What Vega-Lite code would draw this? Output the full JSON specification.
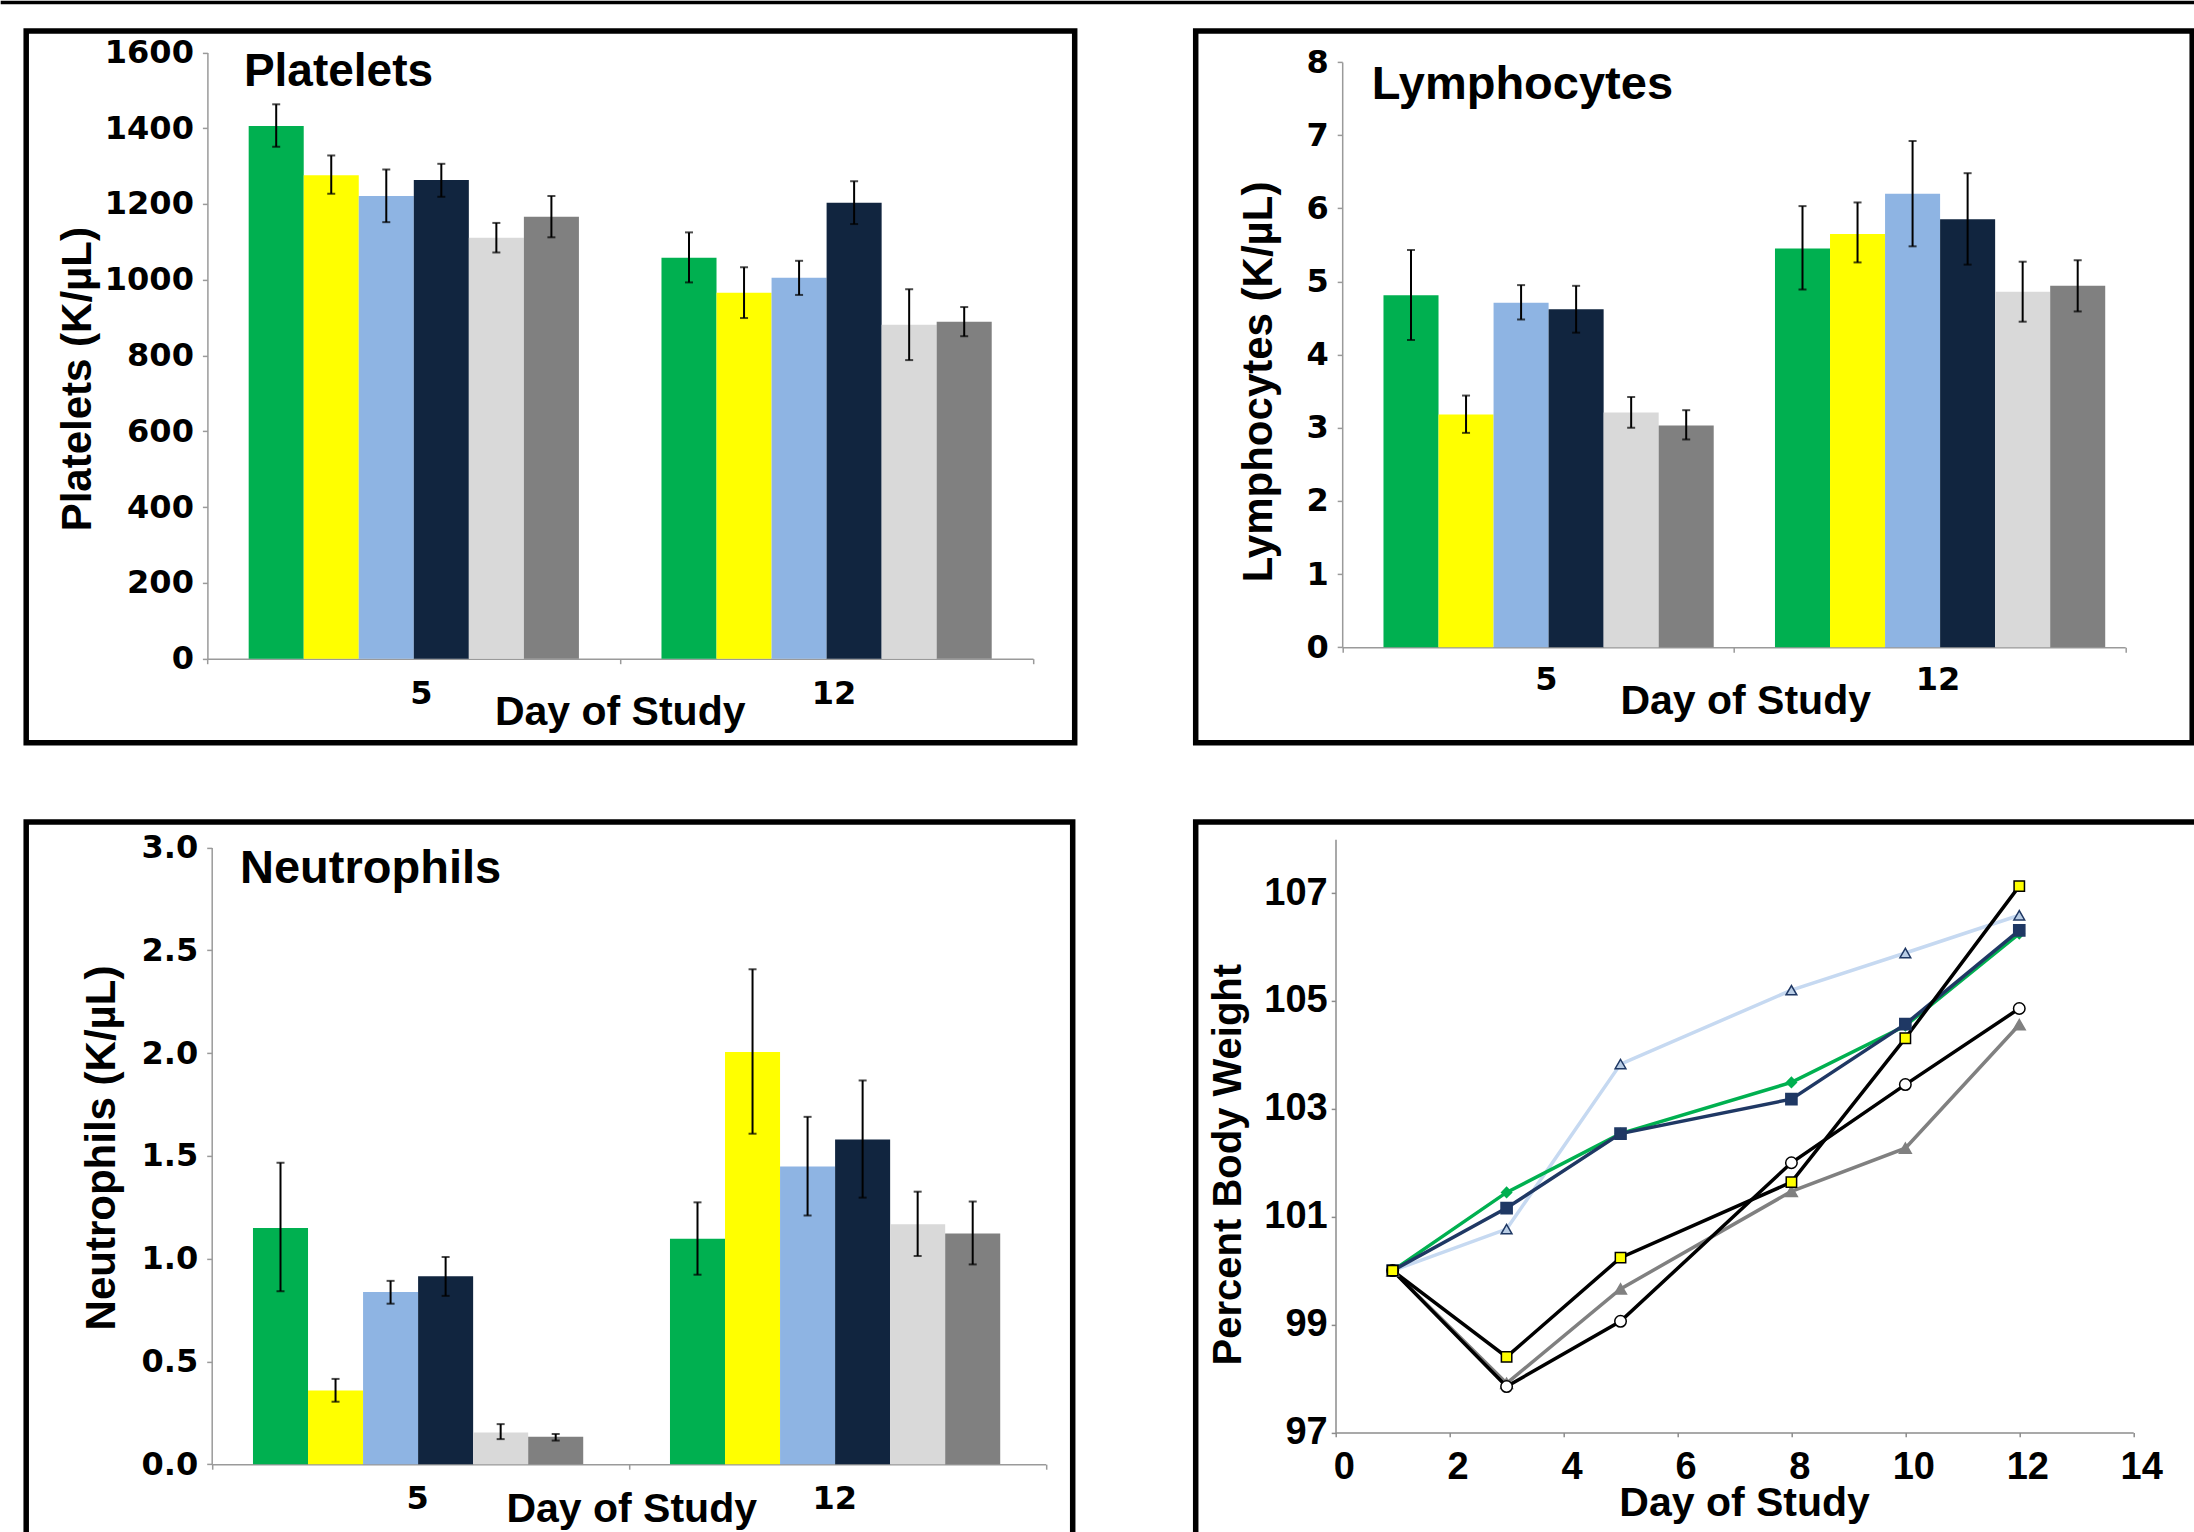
{
  "$schema": "https://vega.github.io/schema/vega-lite/v6.json",
  "padding": 0,
  "background": "white",
  "bounds": "flush",
  "spacing": 27.9,
  "datasets": {
    "platelets": [
      {"day": "5", "group": "G1", "value": 1406, "lo": 1351, "hi": 1463},
      {"day": "5", "group": "G2", "value": 1276, "lo": 1227, "hi": 1328},
      {"day": "5", "group": "G3", "value": 1221, "lo": 1152, "hi": 1291},
      {"day": "5", "group": "G4", "value": 1263, "lo": 1219, "hi": 1306},
      {"day": "5", "group": "G5", "value": 1111, "lo": 1072, "hi": 1150},
      {"day": "5", "group": "G6", "value": 1166, "lo": 1112, "hi": 1221},
      {"day": "12", "group": "G1", "value": 1058, "lo": 993, "hi": 1125},
      {"day": "12", "group": "G2", "value": 966, "lo": 899, "hi": 1033},
      {"day": "12", "group": "G3", "value": 1005, "lo": 960, "hi": 1050},
      {"day": "12", "group": "G4", "value": 1203, "lo": 1147, "hi": 1260},
      {"day": "12", "group": "G5", "value": 881, "lo": 788, "hi": 975},
      {"day": "12", "group": "G6", "value": 889, "lo": 851, "hi": 928}
    ],
    "lymph": [
      {"day": "5", "group": "G1", "value": 4.81, "lo": 4.20, "hi": 5.43},
      {"day": "5", "group": "G2", "value": 3.18, "lo": 2.93, "hi": 3.44},
      {"day": "5", "group": "G3", "value": 4.71, "lo": 4.48, "hi": 4.95},
      {"day": "5", "group": "G4", "value": 4.62, "lo": 4.30, "hi": 4.94},
      {"day": "5", "group": "G5", "value": 3.21, "lo": 3.00, "hi": 3.42},
      {"day": "5", "group": "G6", "value": 3.03, "lo": 2.84, "hi": 3.24},
      {"day": "12", "group": "G1", "value": 5.45, "lo": 4.89, "hi": 6.03},
      {"day": "12", "group": "G2", "value": 5.65, "lo": 5.26, "hi": 6.08},
      {"day": "12", "group": "G3", "value": 6.20, "lo": 5.48, "hi": 6.92},
      {"day": "12", "group": "G4", "value": 5.85, "lo": 5.23, "hi": 6.48},
      {"day": "12", "group": "G5", "value": 4.86, "lo": 4.45, "hi": 5.27},
      {"day": "12", "group": "G6", "value": 4.94, "lo": 4.59, "hi": 5.29}
    ],
    "neut": [
      {"day": "5", "group": "G1", "value": 1.149, "lo": 0.842, "hi": 1.467},
      {"day": "5", "group": "G2", "value": 0.359, "lo": 0.304, "hi": 0.415},
      {"day": "5", "group": "G3", "value": 0.838, "lo": 0.781, "hi": 0.892},
      {"day": "5", "group": "G4", "value": 0.915, "lo": 0.819, "hi": 1.008},
      {"day": "5", "group": "G5", "value": 0.154, "lo": 0.122, "hi": 0.195},
      {"day": "5", "group": "G6", "value": 0.134, "lo": 0.115, "hi": 0.147},
      {"day": "12", "group": "G1", "value": 1.097, "lo": 0.922, "hi": 1.274},
      {"day": "12", "group": "G2", "value": 2.005, "lo": 1.608, "hi": 2.408},
      {"day": "12", "group": "G3", "value": 1.449, "lo": 1.210, "hi": 1.690},
      {"day": "12", "group": "G4", "value": 1.580, "lo": 1.297, "hi": 1.867},
      {"day": "12", "group": "G5", "value": 1.167, "lo": 1.013, "hi": 1.326},
      {"day": "12", "group": "G6", "value": 1.122, "lo": 0.972, "hi": 1.278}
    ],
    "weight": [
      {"series": "G3", "day": 1, "pct": 100.0},
      {"series": "G3", "day": 3, "pct": 100.77},
      {"series": "G3", "day": 5, "pct": 103.83},
      {"series": "G3", "day": 8, "pct": 105.20},
      {"series": "G3", "day": 10, "pct": 105.89},
      {"series": "G3", "day": 12, "pct": 106.59},
      {"series": "G1", "day": 1, "pct": 100.0},
      {"series": "G1", "day": 3, "pct": 101.45},
      {"series": "G1", "day": 5, "pct": 102.54},
      {"series": "G1", "day": 8, "pct": 103.49},
      {"series": "G1", "day": 10, "pct": 104.54},
      {"series": "G1", "day": 12, "pct": 106.25},
      {"series": "G4", "day": 1, "pct": 100.0},
      {"series": "G4", "day": 3, "pct": 101.16},
      {"series": "G4", "day": 5, "pct": 102.54},
      {"series": "G4", "day": 8, "pct": 103.18},
      {"series": "G4", "day": 10, "pct": 104.57},
      {"series": "G4", "day": 12, "pct": 106.31},
      {"series": "G6", "day": 1, "pct": 100.0},
      {"series": "G6", "day": 3, "pct": 97.91},
      {"series": "G6", "day": 5, "pct": 99.66},
      {"series": "G6", "day": 8, "pct": 101.47},
      {"series": "G6", "day": 10, "pct": 102.27},
      {"series": "G6", "day": 12, "pct": 104.56},
      {"series": "G5", "day": 1, "pct": 100.0},
      {"series": "G5", "day": 3, "pct": 97.85},
      {"series": "G5", "day": 5, "pct": 99.06},
      {"series": "G5", "day": 8, "pct": 102.00},
      {"series": "G5", "day": 10, "pct": 103.45},
      {"series": "G5", "day": 12, "pct": 104.86},
      {"series": "G2", "day": 1, "pct": 100.0},
      {"series": "G2", "day": 3, "pct": 98.40},
      {"series": "G2", "day": 5, "pct": 100.24},
      {"series": "G2", "day": 8, "pct": 101.64},
      {"series": "G2", "day": 10, "pct": 104.31},
      {"series": "G2", "day": 12, "pct": 107.13}
    ]
  },
  "vconcat": [
    {
      "width": 2191, "height": 1,
      "data": {"values": []},
      "mark": {"type": "text", "text": ""},
      "view": {"stroke": "black", "strokeWidth": 2.6}
    },
    {
      "bounds": "flush",
      "spacing": 23.2,
      "hconcat": [
        {
          "width": 1, "height": 1,
          "data": {"values": []},
          "mark": {"type": "text", "text": ""}
        },
        {
          "bounds": "flush",
          "columns": 2,
          "spacing": {"row": 79, "column": 120.5},
          "resolve": {"scale": {"color": "independent"}},
          "concat": [
            {
              "width": 1048.5, "height": 711.8,
              "view": {"stroke": "black", "strokeWidth": 5.5},
              "data": {"name": "platelets"},
              "encoding": {
                "x": {"field": "day", "type": "nominal", "sort": ["5", "12"],
                  "scale": {"range": [181.2, 1006.8], "paddingInner": 0, "paddingOuter": 0},
                  "axis": {"orient": "bottom", "offset": -84, "title": "Day of Study", "titleX": 593.5, "titleY": 66, "titleAlign": "center", "titleBaseline": "alphabetic", "titleFontSize": 41, "labelAngle": 0, "labelFont": "DejaVu Sans", "labelFontSize": 32, "labelPadding": 15, "labelOffset": 7, "tickSize": 5, "tickBand": "extent"}}
              },
              "layer": [
                {
                  "mark": {"type": "bar"},
                  "encoding": {
                    "xOffset": {"field": "group", "type": "nominal", "scale": {"paddingInner": 0, "paddingOuter": 0.75}},
                    "y": {"field": "value", "type": "quantitative", "scale": {"domain": [0, 1600], "range": [627.8, 21.5], "nice": false, "zero": false},
                      "axis": {"orient": "left", "offset": -181.2, "values": [0, 200, 400, 600, 800, 1000, 1200, 1400, 1600], "format": "d", "title": "Platelets (K/µL)", "titleX": -116.7, "titleY": 347.8, "titleAngle": -90, "titleAlign": "center", "titleBaseline": "alphabetic", "titleFontSize": 42, "labelFont": "DejaVu Sans", "labelFontSize": 32, "labelPadding": 9, "tickSize": 5}},
                    "color": {"field": "group", "type": "nominal", "legend": null, "scale": {"domain": ["G1", "G2", "G3", "G4", "G5", "G6"], "range": ["#00B050", "#FFFF00", "#8EB4E3", "#11253F", "#D9D9D9", "#808080"]}}
                  }
                },
                {
                  "mark": {"type": "rule", "color": "black", "strokeWidth": 2},
                  "encoding": {
                    "xOffset": {"field": "group", "type": "nominal"},
                    "y": {"field": "lo", "type": "quantitative"},
                    "y2": {"field": "hi"}
                  }
                },
                {
                  "mark": {"type": "tick", "color": "black", "thickness": 2, "size": 8},
                  "encoding": {
                    "xOffset": {"field": "group", "type": "nominal"},
                    "y": {"field": "lo", "type": "quantitative"}}
                },
                {
                  "mark": {"type": "tick", "color": "black", "thickness": 2, "size": 8},
                  "encoding": {
                    "xOffset": {"field": "group", "type": "nominal"},
                    "y": {"field": "hi", "type": "quantitative"}}
                },
                {
                  "data": {"values": [{"label": "Platelets"}]},
                  "mark": {"type": "text", "align": "left", "baseline": "alphabetic", "font": "Liberation Sans", "fontSize": 46, "fontWeight": "bold", "color": "black"},
                  "encoding": {
                    "text": {"field": "label"},
                    "x": {"datum": "5", "type": "nominal", "bandPosition": 0.0884},
                    "y": {"datum": 1512, "type": "quantitative"}
                  }
                }
              ]
            },
            {
              "width": 996.5, "height": 711.8,
              "view": {"stroke": "black", "strokeWidth": 5.5},
              "data": {"name": "lymph"},
              "encoding": {
                "x": {"field": "day", "type": "nominal", "sort": ["5", "12"],
                  "scale": {"range": [146.5, 929.5], "paddingInner": 0, "paddingOuter": 0},
                  "axis": {"orient": "bottom", "offset": -95.5, "title": "Day of Study", "titleX": 549.5, "titleY": 66.5, "titleAlign": "center", "titleBaseline": "alphabetic", "titleFontSize": 41, "labelAngle": 0, "labelFont": "DejaVu Sans", "labelFontSize": 32, "labelPadding": 12, "labelOffset": 8, "tickSize": 5, "tickBand": "extent"}}
              },
              "layer": [
                {
                  "mark": {"type": "bar"},
                  "encoding": {
                    "xOffset": {"field": "group", "type": "nominal", "scale": {"paddingInner": 0, "paddingOuter": 0.75}},
                    "y": {"field": "value", "type": "quantitative", "scale": {"domain": [0, 8], "range": [616.3, 31.1], "nice": false, "zero": false},
                      "axis": {"orient": "left", "offset": -146.5, "values": [0, 1, 2, 3, 4, 5, 6, 7, 8], "format": "d", "title": "Lymphocytes (K/µL)", "titleX": -70.5, "titleY": 350.5, "titleAngle": -90, "titleAlign": "center", "titleBaseline": "alphabetic", "titleFontSize": 42, "labelFont": "DejaVu Sans", "labelFontSize": 32, "labelPadding": 9, "tickSize": 5}},
                    "color": {"field": "group", "type": "nominal", "legend": null, "scale": {"domain": ["G1", "G2", "G3", "G4", "G5", "G6"], "range": ["#00B050", "#FFFF00", "#8EB4E3", "#11253F", "#D9D9D9", "#808080"]}}
                  }
                },
                {
                  "mark": {"type": "rule", "color": "black", "strokeWidth": 2},
                  "encoding": {
                    "xOffset": {"field": "group", "type": "nominal"},
                    "y": {"field": "lo", "type": "quantitative"},
                    "y2": {"field": "hi"}
                  }
                },
                {
                  "mark": {"type": "tick", "color": "black", "thickness": 2, "size": 8},
                  "encoding": {
                    "xOffset": {"field": "group", "type": "nominal"},
                    "y": {"field": "lo", "type": "quantitative"}}
                },
                {
                  "mark": {"type": "tick", "color": "black", "thickness": 2, "size": 8},
                  "encoding": {
                    "xOffset": {"field": "group", "type": "nominal"},
                    "y": {"field": "hi", "type": "quantitative"}}
                },
                {
                  "data": {"values": [{"label": "Lymphocytes"}]},
                  "mark": {"type": "text", "align": "left", "baseline": "alphabetic", "font": "Liberation Sans", "fontSize": 47, "fontWeight": "bold", "color": "black"},
                  "encoding": {
                    "text": {"field": "label"},
                    "x": {"datum": "5", "type": "nominal", "bandPosition": 0.0756},
                    "y": {"datum": 7.494, "type": "quantitative"}
                  }
                }
              ]
            },
            {
              "width": 1046.5, "height": 708,
              "view": {"stroke": "black", "strokeWidth": 5.5, "strokeDash": [1754.5, 1046.5, 713, 5], "strokeCap": "square"},
              "data": {"name": "neut"},
              "encoding": {
                "x": {"field": "day", "type": "nominal", "sort": ["5", "12"],
                  "scale": {"range": [185.5, 1019.5], "paddingInner": 0, "paddingOuter": 0},
                  "axis": {"orient": "bottom", "offset": -65.7, "title": "Day of Study", "titleX": 605, "titleY": 57, "titleAlign": "center", "titleBaseline": "alphabetic", "titleFontSize": 41, "labelAngle": 0, "labelFont": "DejaVu Sans", "labelFontSize": 32, "labelPadding": 14, "labelOffset": -3, "tickSize": 5, "tickBand": "extent"}}
              },
              "layer": [
                {
                  "mark": {"type": "bar"},
                  "encoding": {
                    "xOffset": {"field": "group", "type": "nominal", "scale": {"paddingInner": 0, "paddingOuter": 0.75}},
                    "y": {"field": "value", "type": "quantitative", "scale": {"domain": [0, 3], "range": [642.3, 25.7], "nice": false, "zero": false},
                      "axis": {"orient": "left", "offset": -185.5, "values": [0, 0.5, 1, 1.5, 2, 2.5, 3], "format": ".1f", "title": "Neutrophils (K/µL)", "titleX": -97, "titleY": 325.6, "titleAngle": -90, "titleAlign": "center", "titleBaseline": "alphabetic", "titleFontSize": 42, "labelFont": "DejaVu Sans", "labelFontSize": 32, "labelPadding": 9, "tickSize": 5}},
                    "color": {"field": "group", "type": "nominal", "legend": null, "scale": {"domain": ["G1", "G2", "G3", "G4", "G5", "G6"], "range": ["#00B050", "#FFFF00", "#8EB4E3", "#11253F", "#D9D9D9", "#808080"]}}
                  }
                },
                {
                  "mark": {"type": "rule", "color": "black", "strokeWidth": 2},
                  "encoding": {
                    "xOffset": {"field": "group", "type": "nominal"},
                    "y": {"field": "lo", "type": "quantitative"},
                    "y2": {"field": "hi"}
                  }
                },
                {
                  "mark": {"type": "tick", "color": "black", "thickness": 2, "size": 8},
                  "encoding": {
                    "xOffset": {"field": "group", "type": "nominal"},
                    "y": {"field": "lo", "type": "quantitative"}}
                },
                {
                  "mark": {"type": "tick", "color": "black", "thickness": 2, "size": 8},
                  "encoding": {
                    "xOffset": {"field": "group", "type": "nominal"},
                    "y": {"field": "hi", "type": "quantitative"}}
                },
                {
                  "data": {"values": [{"label": "Neutrophils"}]},
                  "mark": {"type": "text", "align": "left", "baseline": "alphabetic", "font": "Liberation Sans", "fontSize": 47, "fontWeight": "bold", "color": "black"},
                  "encoding": {
                    "text": {"field": "label"},
                    "x": {"datum": "5", "type": "nominal", "bandPosition": 0.0679},
                    "y": {"datum": 2.83, "type": "quantitative"}
                  }
                }
              ]
            },
            {
              "width": 996.5, "height": 708,
              "view": {"stroke": "black", "strokeWidth": 5.5, "strokeDash": [996.5, 1704.5, 713, 5], "strokeCap": "square"},
              "data": {"name": "weight"},
              "encoding": {
                "x": {"field": "day", "type": "quantitative",
                  "scale": {"domain": [0, 14], "range": [140, 937.5], "nice": false, "zero": false},
                  "axis": {"orient": "bottom", "offset": -97.5, "values": [0, 2, 4, 6, 8, 10, 12, 14], "format": "d", "title": "Day of Study", "titleX": 548.4, "titleY": 83.3, "titleAlign": "center", "titleBaseline": "alphabetic", "titleFontSize": 41, "labelAngle": 0, "labelFont": "Liberation Sans", "labelFontSize": 38, "labelPadding": 12, "labelOffset": 8, "tickSize": 4.3, "domainColor": "#8C8C8C", "tickColor": "#8C8C8C"}},
                "y": {"field": "pct", "type": "quantitative",
                  "scale": {"domain": [97, 108], "range": [610.5, 17.3], "nice": false, "zero": false},
                  "axis": {"orient": "left", "offset": -139.8, "values": [97, 99, 101, 103, 105, 107], "format": "d", "title": "Percent Body Weight", "titleX": -94.7, "titleY": 342.3, "titleAngle": -90, "titleAlign": "center", "titleBaseline": "alphabetic", "titleFontSize": 40, "labelFont": "Liberation Sans", "labelFontSize": 38, "labelPadding": 4, "tickSize": 4.3, "domainColor": "#8C8C8C", "tickColor": "#8C8C8C"}}
              },
              "layer": [
                {
                  "mark": {"type": "line", "strokeWidth": 3.5},
                  "encoding": {
                    "color": {"field": "series", "type": "nominal", "legend": null, "scale": {"domain": ["G1", "G2", "G3", "G4", "G5", "G6"], "range": ["#00B050", "#000000", "#C6D9F1", "#1F3864", "#000000", "#808080"]}}
                  }
                },
                {
                  "mark": {"type": "point", "filled": true, "strokeWidth": 1.5, "opacity": 1},
                  "encoding": {
                    "shape": {"field": "series", "type": "nominal", "legend": null, "scale": {"domain": ["G1", "G2", "G3", "G4", "G5", "G6"], "range": ["diamond", "square", "triangle-up", "square", "circle", "triangle-up"]}},
                    "fill": {"field": "series", "type": "nominal", "legend": null, "scale": {"domain": ["G1", "G2", "G3", "G4", "G5", "G6"], "range": ["#00B050", "#FFFF00", "#B9CDE5", "#1F3864", "#FFFFFF", "#808080"]}},
                    "stroke": {"field": "series", "type": "nominal", "legend": null, "scale": {"domain": ["G1", "G2", "G3", "G4", "G5", "G6"], "range": ["#00B050", "#000000", "#1F3864", "#1F3864", "#000000", "#808080"]}},
                    "size": {"field": "series", "type": "nominal", "legend": null, "scale": {"domain": ["G1", "G2", "G3", "G4", "G5", "G6"], "range": [100, 140, 170, 160, 140, 170]}}
                  }
                }
              ]
            }
          ]
        }
      ]
    }
  ],
  "config": {
    "view": {"stroke": null},
    "axis": {"grid": false, "labelColor": "#000000", "titleColor": "#000000", "domainColor": "#9A9A9A", "tickColor": "#9A9A9A", "domainWidth": 1.5, "tickWidth": 1.5, "labelFlush": false, "labelOverlap": false, "labelBound": false, "titleFont": "Liberation Sans", "titleFontWeight": "bold", "labelFontWeight": "bold"}
  }
}
